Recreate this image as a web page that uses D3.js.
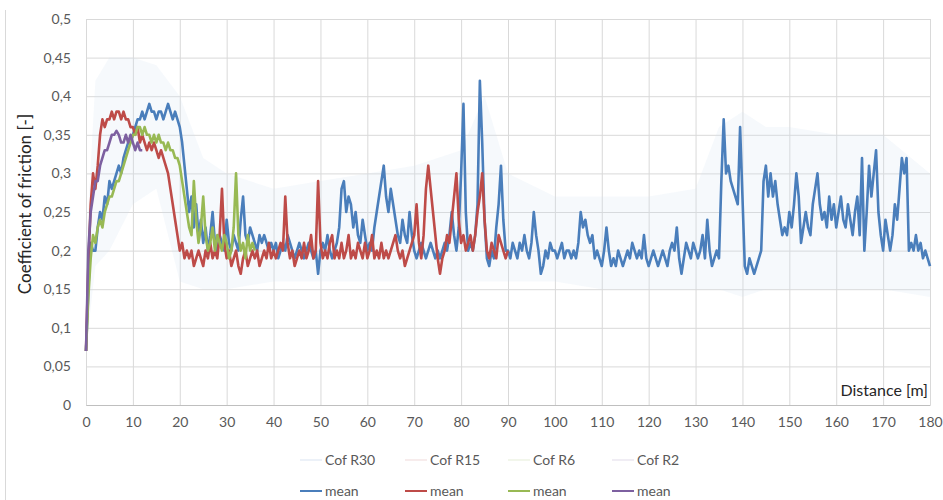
<!DOCTYPE html>
<html>
<head>
<meta charset="utf-8">
<script src="https://cdn.jsdelivr.net/npm/d3@7"></script>
<style>
  body { margin: 0; background: #fff; }
  svg text { font-family: Lato, "Open Sans", sans-serif; }
</style>
</head>
<body>
<div class="chart"></div>
<script>
// data, 0.5 m steps
const step = 0.5;
const blueMean = [
  0.07,0.15,0.21,0.2,0.2,0.23,0.25,0.24,0.27,0.26,0.29,0.28,0.29,0.3,0.31,0.3,0.32,0.33,0.34,0.34,
  0.35,0.36,0.37,0.37,0.38,0.37,0.38,0.39,0.38,0.38,0.37,0.38,0.38,0.37,0.38,0.39,0.38,0.37,0.38,0.37,
  0.36,0.34,0.31,0.28,0.25,0.27,0.23,0.26,0.22,0.24,0.21,0.23,0.2,0.22,0.25,0.21,0.2,0.22,0.21,0.2,
  0.24,0.21,0.2,0.22,0.21,0.2,0.24,0.27,0.22,0.21,0.23,0.22,0.21,0.2,0.22,0.21,0.22,0.21,0.2,0.21,
  0.2,0.21,0.19,0.2,0.21,0.2,0.22,0.21,0.2,0.19,0.2,0.21,0.2,0.19,0.2,0.21,0.2,0.19,0.2,0.17,
  0.2,0.21,0.2,0.22,0.2,0.19,0.2,0.21,0.23,0.28,0.29,0.25,0.27,0.26,0.23,0.25,0.22,0.21,0.24,0.22,
  0.2,0.21,0.2,0.23,0.25,0.27,0.29,0.31,0.27,0.25,0.28,0.26,0.24,0.22,0.21,0.24,0.22,0.21,0.25,0.22,
  0.2,0.19,0.2,0.21,0.2,0.19,0.2,0.21,0.2,0.19,0.2,0.19,0.2,0.21,0.2,0.22,0.25,0.22,0.2,0.23,
  0.3,0.39,0.25,0.2,0.21,0.2,0.22,0.26,0.42,0.34,0.24,0.19,0.18,0.2,0.19,0.23,0.26,0.31,0.24,0.2,
  0.2,0.19,0.21,0.2,0.19,0.21,0.2,0.22,0.2,0.19,0.21,0.25,0.22,0.2,0.17,0.18,0.2,0.19,0.21,0.2,
  0.2,0.19,0.2,0.21,0.19,0.2,0.2,0.19,0.2,0.19,0.21,0.25,0.23,0.24,0.22,0.21,0.22,0.19,0.2,0.19,
  0.18,0.2,0.23,0.2,0.18,0.19,0.18,0.2,0.19,0.18,0.19,0.2,0.19,0.21,0.2,0.19,0.2,0.19,0.22,0.19,
  0.18,0.19,0.2,0.19,0.18,0.19,0.2,0.19,0.18,0.2,0.21,0.2,0.23,0.19,0.17,0.19,0.21,0.2,0.19,0.21,
  0.2,0.19,0.2,0.22,0.19,0.24,0.2,0.18,0.19,0.2,0.19,0.29,0.37,0.3,0.31,0.29,0.28,0.27,0.26,0.36,
  0.27,0.18,0.17,0.19,0.18,0.17,0.18,0.19,0.2,0.29,0.31,0.27,0.3,0.27,0.29,0.26,0.24,0.22,0.23,0.22,
  0.25,0.23,0.26,0.3,0.27,0.21,0.23,0.25,0.23,0.22,0.26,0.28,0.3,0.26,0.24,0.25,0.23,0.27,0.24,0.26,
  0.23,0.25,0.27,0.24,0.23,0.26,0.24,0.22,0.25,0.27,0.22,0.32,0.2,0.25,0.31,0.27,0.3,0.33,0.25,0.22,
  0.2,0.24,0.22,0.2,0.22,0.26,0.24,0.28,0.32,0.3,0.32,0.2,0.21,0.2,0.22,0.2,0.21,0.19,0.2,0.19,
  0.18
];
const redMean = [
  0.07,0.18,0.26,0.3,0.28,0.31,0.35,0.37,0.36,0.37,0.37,0.38,0.37,0.38,0.38,0.37,0.38,0.37,0.37,0.36,
  0.36,0.35,0.36,0.34,0.35,0.34,0.33,0.34,0.33,0.34,0.33,0.32,0.33,0.32,0.31,0.3,0.28,0.26,0.24,0.22,
  0.2,0.21,0.19,0.2,0.19,0.2,0.18,0.19,0.2,0.19,0.18,0.2,0.19,0.21,0.19,0.2,0.19,0.22,0.28,0.21,
  0.19,0.2,0.18,0.19,0.2,0.18,0.17,0.19,0.2,0.18,0.19,0.2,0.19,0.2,0.18,0.19,0.2,0.19,0.21,0.19,
  0.2,0.19,0.2,0.21,0.2,0.27,0.21,0.19,0.2,0.18,0.19,0.2,0.19,0.21,0.19,0.2,0.22,0.19,0.2,0.29,
  0.21,0.19,0.2,0.19,0.21,0.22,0.19,0.2,0.19,0.21,0.19,0.2,0.22,0.19,0.2,0.19,0.21,0.2,0.19,0.21,
  0.19,0.2,0.22,0.19,0.2,0.19,0.21,0.19,0.2,0.19,0.2,0.21,0.22,0.2,0.19,0.2,0.18,0.19,0.2,0.21,
  0.22,0.26,0.21,0.19,0.22,0.28,0.31,0.28,0.25,0.22,0.19,0.17,0.19,0.2,0.22,0.21,0.24,0.27,0.3,0.24,
  0.21,0.22,0.2,0.21,0.22,0.2,0.22,0.25,0.27,0.3,0.24,0.2,0.19,0.21,0.2,0.19,0.22,0.21,0.2,0.19,
  0.2
];
const greenMean = [
  0.07,0.14,0.19,0.22,0.21,0.23,0.24,0.23,0.25,0.26,0.27,0.27,0.28,0.29,0.29,0.3,0.31,0.32,0.33,0.34,
  0.35,0.35,0.36,0.36,0.35,0.36,0.35,0.35,0.34,0.35,0.34,0.35,0.34,0.34,0.33,0.34,0.33,0.33,0.32,0.32,
  0.31,0.29,0.27,0.25,0.23,0.22,0.29,0.24,0.21,0.23,0.27,0.22,0.2,0.21,0.23,0.2,0.22,0.21,0.2,0.22,
  0.21,0.19,0.2,0.23,0.3,0.22,0.2,0.21,0.19,0.22,0.2,0.21,0.2
];
const purpleMean = [
  0.07,0.2,0.25,0.27,0.29,0.29,0.31,0.32,0.33,0.33,0.34,0.35,0.35,0.355,0.35,0.34,0.34,0.35,0.34,0.35,
  0.34,0.33,0.34,0.33,0.33
];
// faint raw-data band (Cof R30 ... R2), min / max
const hazeX  = [0, 2, 5, 10, 15, 20, 25, 30, 40, 50, 60, 70, 80, 85, 90, 100, 110, 120, 130, 135, 140, 145, 150, 160, 170, 180];
const hazeLo = [0.07, 0.18, 0.2, 0.26, 0.28, 0.16, 0.15, 0.15, 0.16, 0.16, 0.16, 0.16, 0.16, 0.16, 0.16, 0.16, 0.15, 0.15, 0.15, 0.15, 0.14, 0.15, 0.15, 0.15, 0.15, 0.14];
const hazeHi = [0.2, 0.42, 0.45, 0.45, 0.44, 0.4, 0.32, 0.3, 0.28, 0.29, 0.3, 0.31, 0.33, 0.4, 0.3, 0.27, 0.27, 0.27, 0.28, 0.36, 0.38, 0.36, 0.36, 0.35, 0.35, 0.3];

const xTicks = d3.range(0, 181, 10);
const yTicks = [0, 0.05, 0.1, 0.15, 0.2, 0.25, 0.3, 0.35, 0.4, 0.45, 0.5];
const rawNames = ['Cof R30', 'Cof R15', 'Cof R6', 'Cof R2'];
const meanNames = ['mean', 'mean', 'mean', 'mean'];
const colors = ['#4a7ebb', '#be4b48', '#98b954', '#7d60a0'];
const rawColors = ['#e6edf6', '#f4e6e6', '#eef3e4', '#ebe7f0'];

const width = 943, height = 500;
const margin = {top: 19, right: 13, bottom: 95, left: 86};
const w = width - margin.left - margin.right;
const h = height - margin.top - margin.bottom;

const svg = d3.select('.chart').append('svg')
  .attr('width', width).attr('height', height);

// chart border on the left
svg.append('line').attr('x1', 5.5).attr('x2', 5.5).attr('y1', 10).attr('y2', height)
  .attr('stroke', '#d9d9d9');

const g = svg.append('g').attr('transform', `translate(${margin.left},${margin.top})`);

const x = d3.scaleLinear().domain([0, 180]).range([0, w]);
const y = d3.scaleLinear().domain([0, 0.5]).range([h, 0]);

// grid
const yAxis = d3.axisLeft(y).tickValues(yTicks)
  .tickFormat(d => d3.format('~g')(d).replace('.', ','))
  .tickSizeInner(-w).tickSizeOuter(0).tickPadding(15);
const yg = g.append('g').call(yAxis);
yg.select('.domain').remove();
yg.selectAll('line').attr('stroke', '#d9d9d9');
yg.selectAll('text').attr('fill', '#595959').style('font-size', '14px');

const xAxis = d3.axisBottom(x).tickValues(xTicks)
  .tickSizeInner(-h).tickSizeOuter(0).tickPadding(12);
const xg = g.append('g').attr('transform', `translate(0,${h})`).call(xAxis);
xg.select('.domain').attr('stroke', '#bfbfbf');
xg.selectAll('line').attr('stroke', '#d9d9d9');
xg.selectAll('text').attr('fill', '#595959').style('font-size', '14px');

// faint raw band
const band = d3.area()
  .x((d, i) => x(hazeX[i]))
  .y0((d, i) => y(hazeLo[i]))
  .y1((d, i) => y(hazeHi[i]));
g.append('path').datum(hazeX).attr('d', band)
  .attr('fill', '#d3e0ee').attr('fill-opacity', 0.2);

// mean lines
const line = d3.line().x((d, i) => x(i * step)).y(d => y(d));
[blueMean, redMean, greenMean, purpleMean].forEach((s, k) => {
  g.append('path').datum(s).attr('d', line)
    .attr('fill', 'none').attr('stroke', colors[k])
    .attr('stroke-width', 2.6).attr('stroke-linejoin', 'round');
});

// axis titles
g.append('text').attr('x', w - 2).attr('y', h - 9)
  .attr('text-anchor', 'end').style('font-size', '16px').attr('fill', '#262626')
  .text('Distance [m]');
svg.append('text')
  .attr('transform', `translate(31,${margin.top + 185}) rotate(-90)`)
  .attr('text-anchor', 'middle').style('font-size', '17px').attr('fill', '#262626')
  .text('Coefficient of friction [-]');

// legend
const legX = [300, 405, 508, 612];
const leg = svg.append('g');
rawNames.forEach((n, i) => {
  leg.append('line').attr('x1', legX[i]).attr('x2', legX[i] + 22)
    .attr('y1', 460).attr('y2', 460).attr('stroke', rawColors[i]).attr('stroke-width', 1.5);
  leg.append('text').attr('x', legX[i] + 25).attr('y', 465)
    .style('font-size', '14px').attr('fill', '#595959').text(n);
});
meanNames.forEach((n, i) => {
  leg.append('line').attr('x1', legX[i]).attr('x2', legX[i] + 22)
    .attr('y1', 491).attr('y2', 491).attr('stroke', colors[i]).attr('stroke-width', 2);
  leg.append('text').attr('x', legX[i] + 25).attr('y', 496)
    .style('font-size', '14px').attr('fill', '#595959').text(n);
});
</script>
</body>
</html>
